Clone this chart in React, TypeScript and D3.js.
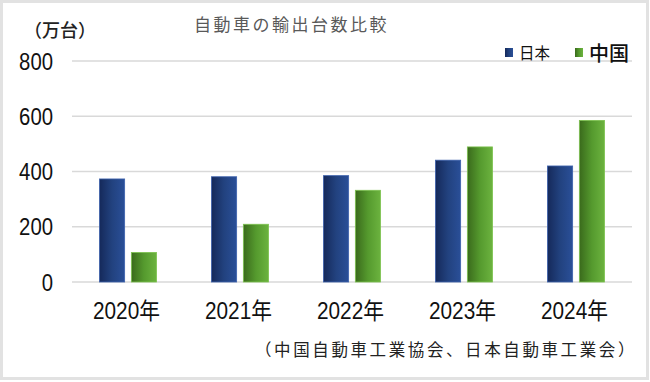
import React from "react";
import * as d3 from "d3";

const years = ["2020年", "2021年", "2022年", "2023年", "2024年"];
const seriesNames = ["日本", "中国"];
const japanValues = [373, 381, 385, 441, 420];
const chinaValues = [107, 209, 332, 489, 585];
const yTicks = [0, 200, 400, 600, 800];

const W = 650;
const H = 382;
const SANS = "'Liberation Sans', Arial, 'Noto Sans CJK JP', sans-serif";
const CJK = "'Noto Sans CJK JP', 'Noto Sans', sans-serif";

export default function App() {
  const x0 = d3.scaleBand<string>().domain(years).range([72, 632]).paddingInner(0.49).paddingOuter(0.245);
  const x1 = d3.scaleBand<string>().domain(seriesNames).range([0, x0.bandwidth()]).paddingInner(0.21);
  const y = d3.scaleLinear().domain([0, 800]).range([282, 61]);
  const data = years.map((yr, i) => ({ yr, vals: [japanValues[i], chinaValues[i]] }));
  const fills = ["url(#gJp)", "url(#gCn)"];
  const strokes = ["#3d62ad", "#7dc24f"];

  return (
    <svg width={W} height={H} style={{ position: "absolute", left: 0, top: 0, background: "#fff" }}>
      <defs>
        <linearGradient id="gJp" x1="0" x2="1" y1="0" y2="0">
          <stop offset="0" stopColor="#15295a" />
          <stop offset="0.5" stopColor="#22427f" />
          <stop offset="1" stopColor="#2a4f98" />
        </linearGradient>
        <linearGradient id="gCn" x1="0" x2="1" y1="0" y2="0">
          <stop offset="0" stopColor="#3a6a1c" />
          <stop offset="0.5" stopColor="#559a2e" />
          <stop offset="1" stopColor="#6cb33f" />
        </linearGradient>
      </defs>
      <rect x={0} y={0} width={W} height={H} fill="#fff" />
      <rect x={1.5} y={1.5} width={646} height={377} fill="none" stroke="#e2e2e2" strokeWidth={3} />

      {yTicks.map((t) => {
        const len = String(t).length * 11.3;
        return (
          <g key={t}>
            <line x1={72} x2={632} y1={y(t)} y2={y(t)} stroke="#d9d9d9" strokeWidth={1.5} />
            <text
              x={53 - len}
              y={y(t) + 8.5}
              fontFamily={SANS}
              fontSize={23.5}
              textLength={len}
              lengthAdjust="spacingAndGlyphs"
              fill="#111"
            >
              {t}
            </text>
          </g>
        );
      })}

      {data.map((d) => (
        <g key={d.yr} transform={`translate(${x0(d.yr)},0)`}>
          {d.vals.map((v, j) => (
            <rect
              key={j}
              x={x1(seriesNames[j])}
              y={y(v)}
              width={x1.bandwidth()}
              height={y(0) - y(v)}
              fill={fills[j]}
              stroke={strokes[j]}
              strokeWidth={0.8}
            />
          ))}
          <text
            x={x0.bandwidth() / 2 - 1.5 - 33.5}
            y={318.5}
            fontFamily={SANS}
            fontSize={23}
            textLength={67}
            lengthAdjust="spacingAndGlyphs"
            fill="#111"
          >
            {d.yr}
          </text>
        </g>
      ))}

      <text x={24} y={37} fontFamily={CJK} fontSize={18} fontWeight={500} fill="#222">
        （万台）
      </text>
      <text x={194} y={31} fontFamily={CJK} fontSize={17} letterSpacing={2.5} fill="#595959">
        自動車の輸出台数比較
      </text>

      <rect x={505} y={48} width={8} height={9} fill="url(#gJp)" />
      <text x={519} y={58.5} fontFamily={CJK} fontSize={15.5} fill="#111">
        {seriesNames[0]}
      </text>
      <rect x={575} y={48} width={8} height={9} fill="url(#gCn)" />
      <text x={589} y={61} fontFamily={CJK} fontSize={20} fontWeight={500} fill="#111">
        {seriesNames[1]}
      </text>

      <text x={255} y={356} fontFamily={CJK} fontSize={16.5} letterSpacing={2.6} fill="#222">
        （中国自動車工業協会、日本自動車工業会）
      </text>
    </svg>
  );
}
